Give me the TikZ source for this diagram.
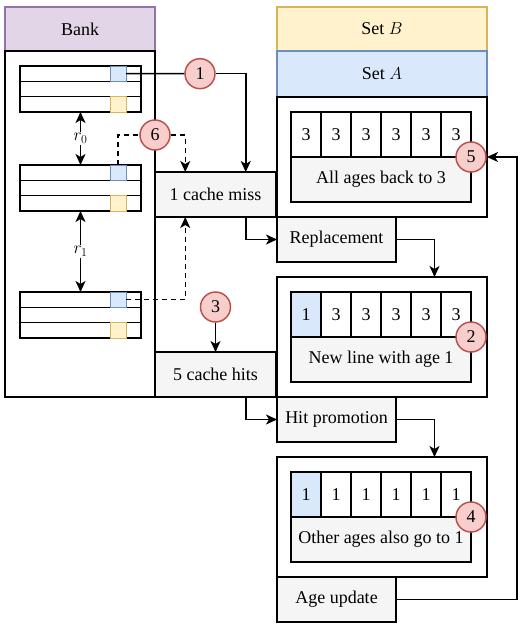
\documentclass[tikz,border=0pt]{standalone}
\usepackage{fontspec}
\setmainfont{Liberation Serif}
\usetikzlibrary{arrows.meta,positioning,calc}
\definecolor{bankfill}{HTML}{E1D5E7}
\definecolor{bankline}{HTML}{9673A6}
\definecolor{setbfill}{HTML}{FFF2CC}
\definecolor{setbline}{HTML}{D6B656}
\definecolor{setafill}{HTML}{DAE8FC}
\definecolor{setaline}{HTML}{6C8EBF}
\definecolor{badgefill}{HTML}{F8CECC}
\definecolor{badgeline}{HTML}{B85450}
\definecolor{notefill}{HTML}{F5F5F5}
\tikzset{
    box/.style={
        rectangle,
        draw=black,
        fill=white,
        inner sep=0pt,
        outer sep=0pt,
    },
    header/.style={
        box,
        minimum width=150pt,
        minimum height=44pt,
    },
    note/.style={
        box,
        fill=notefill,
        minimum height=45pt,
    },
    cell/.style={
        box,
        minimum width=30pt,
        minimum height=45pt,
    },
    bankrow/.style={
        box,
        minimum width=121pt,
        minimum height=15.33pt,
    },
    slot/.style={
        box,
        line width=1pt,
        minimum width=16pt,
        minimum height=15.33pt,
    },
    badge/.style={
        circle,
        draw=badgeline,
        fill=badgefill,
        minimum size=30pt,
        inner sep=0pt,
    },
}

\begin{document}
\begin{tikzpicture}[x=1pt,y=-1pt,line width=1.5pt,>={Stealth[length=11pt,width=10pt,inset=3pt]},font=\fontsize{18}{22}\selectfont]
    \useasboundingbox (0,0) rectangle (524,630);
    \node [header, draw=bankline, fill=bankfill] (bankhead) at (80,29) {Bank};
    \node [box, minimum width=150pt, minimum height=346pt, below=0pt of bankhead] (bank) {};
    \foreach \b/\y in {1/66,2/165,3/292} {
        \foreach \r in {0,1,2}
            \node [bankrow, anchor=north west] (row\b\r) at (20,\y+\r*15.33) {};
        \node [slot, draw=setaline, fill=setafill, anchor=north west] (hot\b) at (110,\y) {};
        \node [slot, draw=setbline, fill=setbfill, anchor=north west] (cold\b) at (110,\y+30.67) {};
    }
    \draw[<->] (row12.south) -- node[fill=white, inner sep=1pt] {$r_0$} (row20.north);
    \draw[<->] (row22.south) -- node[fill=white, inner sep=1pt] {$r_1$} (row30.north);

    \node [header, draw=setbline, fill=setbfill, minimum width=210pt] (setB) at (382,29) {Set $B$};
    \node [header, draw=setaline, fill=setafill, minimum width=210pt, minimum height=46pt, below=0pt of setB] (setA) {Set $A$};
    \node [box, minimum width=210pt, minimum height=120pt, below=0pt of setA] (panela) {};
    \node [box, minimum width=210pt, minimum height=120pt] (panelb) at (382,337) {};
    \node [box, minimum width=210pt, minimum height=120pt] (panelc) at (382,517) {};
    \foreach \p/\first/\rest/\tint/\txt/\num in {a/3/3/white/All ages back to 3/5,b/1/3/setafill/New line with age 1/2,c/1/1/setafill/Other ages also go to 1/4} {
        \node [cell, fill=\tint, anchor=north west] (cell\p0) at ($(panel\p.north west)+(14,15)$) {\first};
        \foreach \i in {1,...,5}
            \node [cell, anchor=north west] (cell\p\i) at ($(panel\p.north west)+(14+30*\i,15)$) {\rest};
        \node [note, minimum width=180pt, anchor=north west] (note\p) at ($(panel\p.north west)+(14,60)$) {\txt};
        \node [badge] (badge\num) at (note\p.north east) {\num};
    }

    \node [note, minimum width=121pt] (miss) at (215.5,194.5) {1 cache miss};
    \node [note, minimum width=121pt] (hits) at (215.5,374.5) {5 cache hits};
    \node [note, minimum width=119pt] (repl) at (336.5,239.5) {Replacement};
    \node [note, minimum width=119pt] (promo) at (336.5,419.5) {Hit promotion};
    \node [note, minimum width=119pt] (ageup) at (336.5,599.5) {Age update};

    \node [badge] (badge1) at (200,73.67) {1};
    \node [badge] (badge6) at (155,135) {6};
    \node [badge] (badge3) at (215.5,307) {3};

    \draw (hot1.east) -- (badge1);
    \draw[->] (badge1) -| ($(miss.north west)!0.75!(miss.north east)$);
    \draw[dash pattern=on 5pt off 4pt] (hot2.north) |- (badge6);
    \draw[dash pattern=on 5pt off 4pt, ->] (badge6) -| ($(miss.north west)!0.25!(miss.north east)$);
    \draw[dash pattern=on 5pt off 4pt, ->] (hot3.east) -| ($(miss.south west)!0.25!(miss.south east)$);
    \draw[->] (badge3) -- (hits);
    \draw[->] ($(miss.south west)!0.75!(miss.south east)$) |- (repl);
    \draw[->] (repl) -| ($(panelb.north west)!0.75!(panelb.north east)$);
    \draw[->] ($(hits.south west)!0.75!(hits.south east)$) |- (promo);
    \draw[->] (promo) -| ($(panelc.north west)!0.75!(panelc.north east)$);
    \draw[->] (ageup) -| ([xshift=30pt]panela.east) -- (panela.east);
\end{tikzpicture}
\end{document}
